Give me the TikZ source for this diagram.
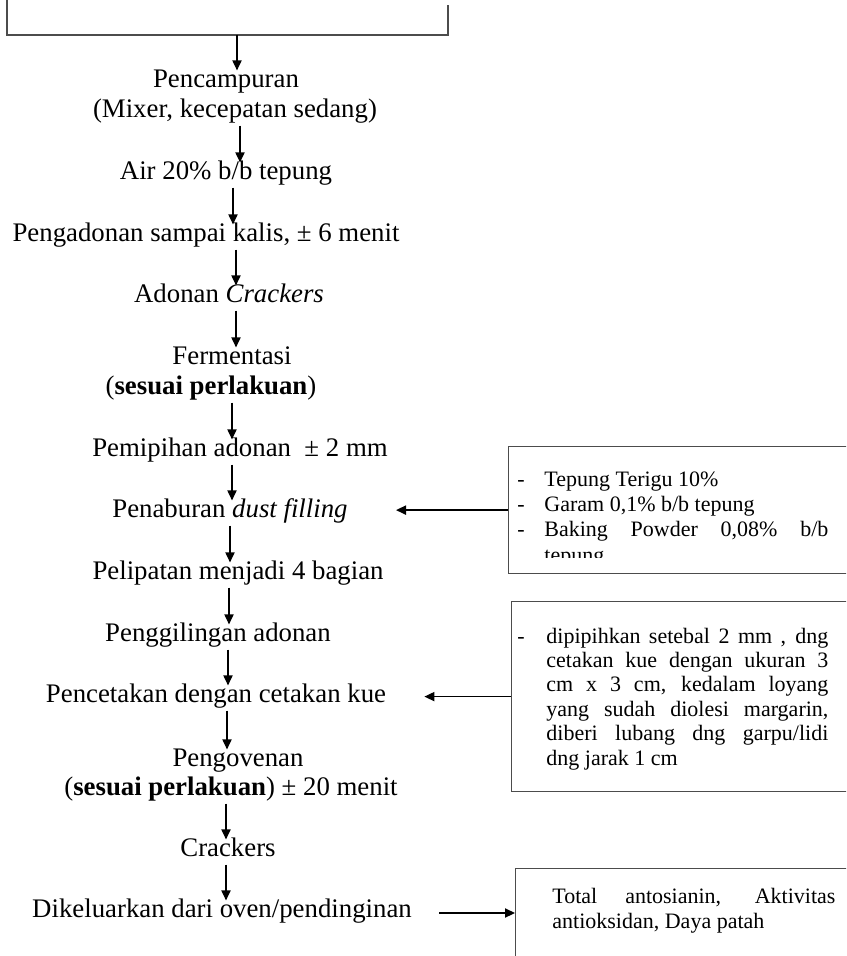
\documentclass[tikz,border=0pt]{standalone}
\usepackage{fontspec}
\setmainfont{Liberation Serif}
\usepackage{tikz}
\usetikzlibrary{arrows.meta}
\tikzset{
    process/.style={inner sep=1.5pt, text height=0.7em, text depth=0.22em, font=\fontsize{13.4}{15.5}\selectfont},
    boxline/.style={draw=black!70, line width=0.6pt},
    infobox/.style={rectangle, boxline, inner sep=0pt, minimum width=172pt, anchor=north west},
    infotext/.style={inner sep=0pt, text width=155.5pt, anchor=base west, font=\fontsize{11}{12.2}\selectfont},
    arrow/.style={-{Triangle[length=5pt, width=4.6pt]}, line width=0.65pt}
}
% baris rata kanan-kiri dengan lebar tetap
\newcommand{\spasi}{\spaceskip=0pt\relax\xspaceskip=0pt\relax\rightskip=0pt\relax}
\newcommand{\rata}[2]{\hbox to #1{\spasi #2}}
\newcommand{\strip}[1]{\makebox[#1][l]{-}}

\begin{document}
\begin{tikzpicture}[x=0.5pt, y=-0.5pt]
            \useasboundingbox (0,0) rectangle (846,956);
            \clip (0,0) rectangle (846,956);

            \draw[boxline] (7,0) -- (7,35) -- (448,35) -- (448,5);
            \coordinate (bahan) at (237,35);
            \node (campur1) [process] at (226,83) {Pencampuran};
            \node (campur2) [process] at (235,113) {(Mixer, kecepatan sedang)};
            \node (air) [process] at (226,175) {Air 20\% b/b tepung};
            \node (adon) [process] at (206,237) {Pengadonan sampai kalis, ± 6 menit};
            \node (adonan) [process] at (229,298) {Adonan \textit{Crackers}};
            \node (ferm1) [process] at (232,360) {Fermentasi};
            \node (ferm2) [process] at (211,390) {(\textbf{sesuai perlakuan})};
            \node (pipih) [process] at (240,452) {Pemipihan adonan~ ± 2 mm};
            \node (tabur) [process] at (230,513) {Penaburan \textit{dust filling}};
            \node (lipat) [process] at (238,575) {Pelipatan menjadi 4 bagian};
            \node (giling) [process] at (218,637) {Penggilingan adonan};
            \node (cetak) [process] at (216,698) {Pencetakan dengan cetakan kue};
            \node (oven1) [process] at (238,762) {Pengovenan};
            \node (oven2) [process] at (231,791) {(\textbf{sesuai perlakuan}) ± 20 menit};
            \node (crackers) [process] at (228,852) {Crackers};
            \node (keluar) [process] at (222,913) {Dikeluarkan dari oven/pendinginan};

            \node (dust) [infobox, minimum height=63.5pt] at (508,446) {};
            \begin{scope}
                \clip (508,446) rectangle (846,557);
                \node (dusttext) [infotext, font=\fontsize{11}{12.7}\selectfont] at (517,486) {\spasi
                    \strip{13.5pt}Tepung Terigu 10\%\\
                    \strip{13.5pt}Garam 0,1\% b/b tepung\\
                    \strip{13.5pt}\rata{142pt}{Baking Powder 0,08\% b/b}\\
                    \hspace*{13.5pt}tepung};
            \end{scope}

            \node (cetakket) [infobox, minimum height=95pt] at (511,601) {};
            \node (cetaktext) [infotext] at (517,643) {\spasi
                \strip{14.5pt}\rata{141pt}{dipipihkan setebal 2 mm , dng}\\
                \hspace*{14.5pt}\rata{141pt}{cetakan kue dengan ukuran 3}\\
                \hspace*{14.5pt}\rata{141pt}{cm x 3 cm, kedalam loyang}\\
                \hspace*{14.5pt}\rata{141pt}{yang sudah diolesi margarin,}\\
                \hspace*{14.5pt}\rata{141pt}{diberi lubang dng garpu/lidi}\\
                \hspace*{14.5pt}dng jarak 1 cm};

            \node (uji) [infobox, minimum height=100pt] at (515,868) {};
            \node (ujitext) [infotext, text width=141.5pt, font=\fontsize{11}{12.5}\selectfont] at (552,903) {\spasi
                \rata{141.5pt}{Total antosianin, Aktivitas}\\
                antioksidan, Daya patah};

            \foreach \a/\b/\x in {bahan/campur1/237, campur2/air/240, air/adon/233, adon/adonan/236,
                adonan/ferm1/236, ferm2/pipih/232, pipih/tabur/232, tabur/lipat/230, lipat/giling/229,
                giling/cetak/228, cetak/oven1/227, oven2/crackers/226, crackers/keluar/226}
                \draw[arrow] (\a.south -| \x,0) -- (\b.north -| \x,0);

            \draw[arrow, shorten >=22.5pt] (dust.west) -- (dust.west -| tabur.east);
            \draw[arrow, shorten >=17.5pt] (cetakket.west) -- (cetakket.west -| cetak.east);
            \draw[arrow, shorten <=12pt] (keluar.east) -- (keluar.east -| uji.west);
\end{tikzpicture}
\end{document}
